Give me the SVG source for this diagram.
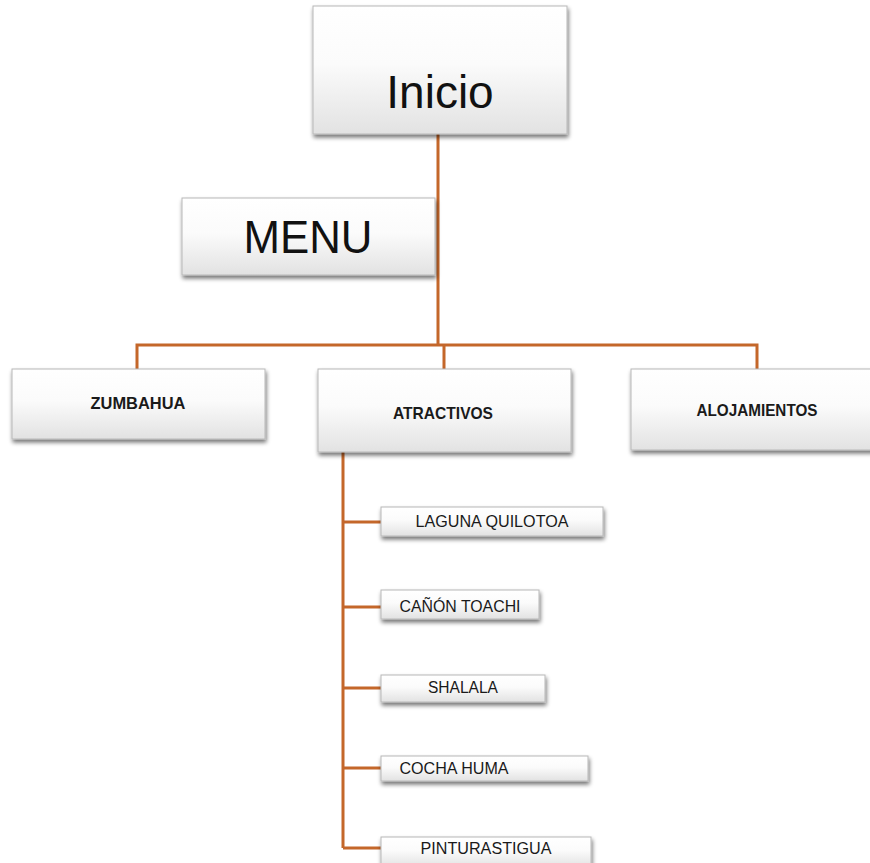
<svg xmlns="http://www.w3.org/2000/svg" width="870" height="863" viewBox="0 0 870 863">
<defs>
<linearGradient id="g" x1="0" y1="0" x2="0" y2="1">
<stop offset="0" stop-color="#ffffff"/>
<stop offset="0.45" stop-color="#fbfbfb"/>
<stop offset="1" stop-color="#e2e2e2"/>
</linearGradient>
<filter id="sh" x="-10%" y="-20%" width="120%" height="150%">
<feGaussianBlur in="SourceAlpha" stdDeviation="2"/>
<feOffset dx="1" dy="3" result="b"/>
<feComponentTransfer><feFuncA type="linear" slope="0.55"/></feComponentTransfer>
<feMerge><feMergeNode/><feMergeNode in="SourceGraphic"/></feMerge>
</filter>
</defs>
<style>
.box{fill:url(#g);stroke:#b8b8b8;stroke-width:1;filter:url(#sh)}
.big{font-family:"Liberation Sans",Arial,sans-serif;font-size:46px;fill:#111;text-anchor:middle}
.hd{font-family:"Liberation Sans",Arial,sans-serif;font-size:17px;font-weight:bold;fill:#1a1a1a;text-anchor:middle}
.sb{font-family:"Liberation Sans",Arial,sans-serif;font-size:16px;fill:#1a1a1a;text-anchor:middle}
.ln{stroke:#c4672a;stroke-width:3;fill:none}
</style>
<g id="connectors">
<path class="ln" d="M438,134 V345 M137,369 V345 H757 V369 M444,345 V369"/>
<path class="ln" d="M343,452 V848 M343,522 H381 M343,607 H381 M343,688 H381 M343,768 H381 M343,848 H381"/>
</g>
<g id="inicio"><rect class="box" x="313" y="6" width="254" height="128"/><text class="big" x="440" y="108">Inicio</text></g>
<g id="menu"><rect class="box" x="182" y="198" width="253" height="77"/><text class="big" x="308" y="253" textLength="129" lengthAdjust="spacingAndGlyphs">MENU</text></g>
<g id="zumbahua"><rect class="box" x="12" y="369" width="253" height="70"/><text class="hd" x="138" y="409" textLength="95" lengthAdjust="spacingAndGlyphs">ZUMBAHUA</text></g>
<g id="atractivos"><rect class="box" x="318" y="369" width="253" height="83"/><text class="hd" x="443" y="419" textLength="100" lengthAdjust="spacingAndGlyphs">ATRACTIVOS</text></g>
<g id="alojamientos"><rect class="box" x="631" y="369" width="245" height="81"/><text class="hd" x="757" y="416" textLength="121" lengthAdjust="spacingAndGlyphs">ALOJAMIENTOS</text></g>
<g id="laguna"><rect class="box" x="381" y="507" width="222" height="29"/><text class="sb" x="492" y="527" textLength="153" lengthAdjust="spacingAndGlyphs">LAGUNA QUILOTOA</text></g>
<g id="canon"><rect class="box" x="381" y="590" width="158" height="29"/><text class="sb" x="460" y="612" textLength="121" lengthAdjust="spacingAndGlyphs">CAÑÓN TOACHI</text></g>
<g id="shalala"><rect class="box" x="381" y="675" width="164" height="27"/><text class="sb" x="463" y="693" textLength="70" lengthAdjust="spacingAndGlyphs">SHALALA</text></g>
<g id="cocha"><rect class="box" x="381" y="756" width="207" height="25"/><text class="sb" x="454" y="774" textLength="109" lengthAdjust="spacingAndGlyphs">COCHA HUMA</text></g>
<g id="pinturas"><rect class="box" x="381" y="837" width="210" height="30"/><text class="sb" x="486" y="854" textLength="131" lengthAdjust="spacingAndGlyphs">PINTURASTIGUA</text></g>
</svg>
